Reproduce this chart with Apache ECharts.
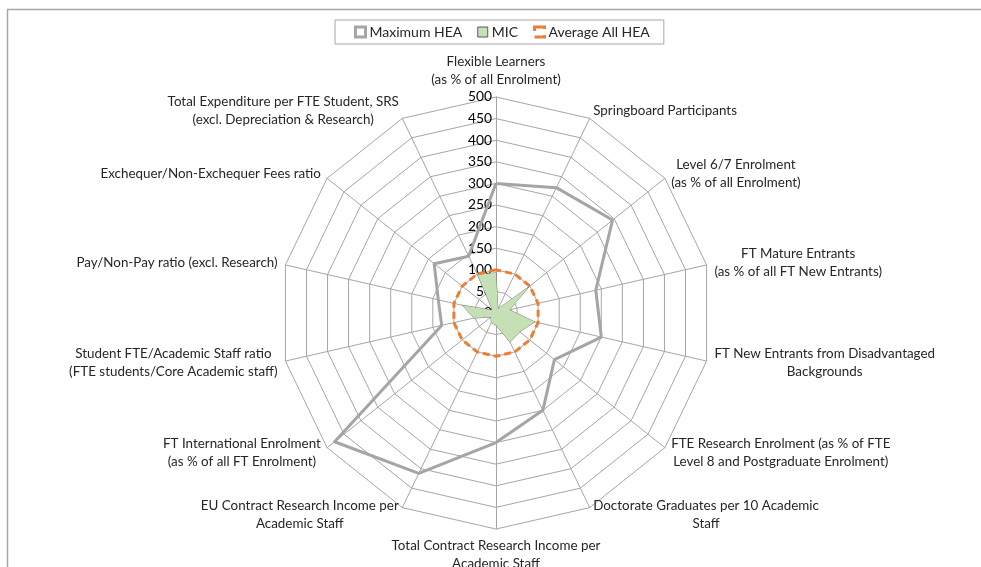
<!DOCTYPE html>
<html>
<head>
<meta charset="utf-8">
<script src="https://cdn.jsdelivr.net/npm/echarts@6/dist/echarts.min.js"></script>
<style>
html,body{margin:0;padding:0;background:#fff;}
#chart{width:981px;height:567px;}
</style>
</head>
<body>
<div id="chart"></div>
<script>
// Categories in clockwise order starting at the top
const categories = [
  'Flexible Learners\n(as % of all Enrolment)',
  'Springboard Participants',
  'Level 6/7 Enrolment\n(as % of all Enrolment)',
  'FT Mature Entrants\n(as % of all FT New Entrants)',
  'FT New Entrants from Disadvantaged\nBackgrounds',
  'FTE Research Enrolment (as % of FTE\nLevel 8 and Postgraduate Enrolment)',
  'Doctorate Graduates per 10 Academic\nStaff',
  'Total Contract Research Income per\nAcademic Staff',
  'EU Contract Research Income per\nAcademic Staff',
  'FT International Enrolment\n(as % of all FT Enrolment)',
  'Student FTE/Academic Staff ratio\n(FTE students/Core Academic staff)',
  'Pay/Non-Pay ratio (excl. Research)',
  'Exchequer/Non-Exchequer Fees ratio',
  'Total Expenditure per FTE Student, SRS\n(excl. Depreciation & Research)'
];
const seriesNames = ['Maximum HEA', 'MIC', 'Average All HEA'];
const maxHEA = [300, 322, 345, 237, 250, 173, 250, 300, 412, 478, 129, 137, 183, 146];
const mic    = [93, 10, 98, 32, 92, 70, 75, 28, 25, 15, 52, 80, 10, 98];
const avgAll = [100, 100, 100, 100, 100, 100, 100, 100, 100, 100, 100, 100, 100, 100];
const axisMin = 0;
const axisMax = 500;
const axisStep = 50;

// ECharts radar goes counter-clockwise; reorder so the picture runs clockwise
function cw(arr) { return [arr[0]].concat(arr.slice(1).reverse()); }

const FONT = 'Lato, "Open Sans", sans-serif';
const NAME_SIZE = 13.4;

const indicators = cw(categories).map(function (name, i) {
  const ind = { name: name, min: axisMin, max: axisMax };
  if (i === 0) {
    ind.axisLabel = { show: true };
  }
  return ind;
});

function centredLines(name) {
  return name.split('\n').map(function (l) { return '{c|' + l + '}'; }).join('\n');
}

const chart = echarts.init(document.getElementById('chart'), null, { renderer: 'canvas' });
chart.setOption({
  animation: false,
  backgroundColor: '#fff',
  textStyle: { fontFamily: FONT },
  graphic: [{
    type: 'rect',
    shape: { x: 7.5, y: 9.5, width: 1000, height: 600 },
    style: { fill: 'none', stroke: '#a6a6a6', lineWidth: 1.5 },
    silent: true,
    z: -10
  }],
  legend: {
    top: 20,
    left: 335,
    data: [
      { name: seriesNames[0], icon: 'rect', itemStyle: { color: '#ffffff', borderColor: '#a5a5a5', borderWidth: 3 } },
      { name: seriesNames[1], icon: 'rect', itemStyle: { color: '#c5e0b4', borderColor: '#595959', borderWidth: 1 } },
      { name: seriesNames[2], icon: 'rect', itemStyle: { color: '#ffffff', borderColor: '#ed7d31', borderWidth: 3, borderType: 'dashed' } }
    ],
    itemWidth: 10,
    itemHeight: 10,
    itemGap: 15,
    borderColor: '#a6a6a6',
    borderWidth: 1,
    padding: [5, 14, 5, 19],
    textStyle: { fontSize: 14, color: '#262626', fontFamily: FONT, padding: [0, 0, 0, -1] }
  },
  radar: {
    center: [496, 313],
    radius: 216,
    startAngle: 90,
    shape: 'polygon',
    splitNumber: 10,
    indicator: indicators,
    nameGap: 8,
    axisName: {
      color: '#262626',
      fontSize: NAME_SIZE,
      fontFamily: FONT,
      lineHeight: 18,
      formatter: function (n) { return centredLines(n); },
      rich: { c: { align: 'center', fontSize: NAME_SIZE, fontFamily: FONT, color: '#262626', lineHeight: 18 } }
    },
    axisLine: { show: true, lineStyle: { color: '#a6a6a6', width: 1 } },
    splitLine: { show: true, lineStyle: { color: '#a6a6a6', width: 1 } },
    splitArea: { show: false },
    axisTick: { show: false },
    axisLabel: { show: false, color: '#000', fontSize: 13.8, fontFamily: FONT, margin: 4 }
  },
  series: [
    {
      name: seriesNames[0],
      type: 'radar',
      symbol: 'none',
      z: 3,
      lineStyle: { color: '#a5a5a5', width: 3 },
      itemStyle: { color: '#a5a5a5' },
      data: [{ value: cw(maxHEA), name: seriesNames[0] }]
    },
    {
      name: seriesNames[1],
      type: 'radar',
      symbol: 'none',
      z: 2,
      lineStyle: { color: '#595959', width: 0.8 },
      areaStyle: { color: '#c5e0b4', opacity: 1 },
      itemStyle: { color: '#c5e0b4' },
      data: [{ value: cw(mic), name: seriesNames[1] }]
    },
    {
      name: seriesNames[2],
      type: 'radar',
      symbol: 'none',
      z: 4,
      lineStyle: { color: '#ed7d31', width: 3, type: [7, 4] },
      itemStyle: { color: '#ed7d31' },
      data: [{ value: cw(avgAll), name: seriesNames[2] }]
    }
  ]
});
</script>
</body>
</html>
